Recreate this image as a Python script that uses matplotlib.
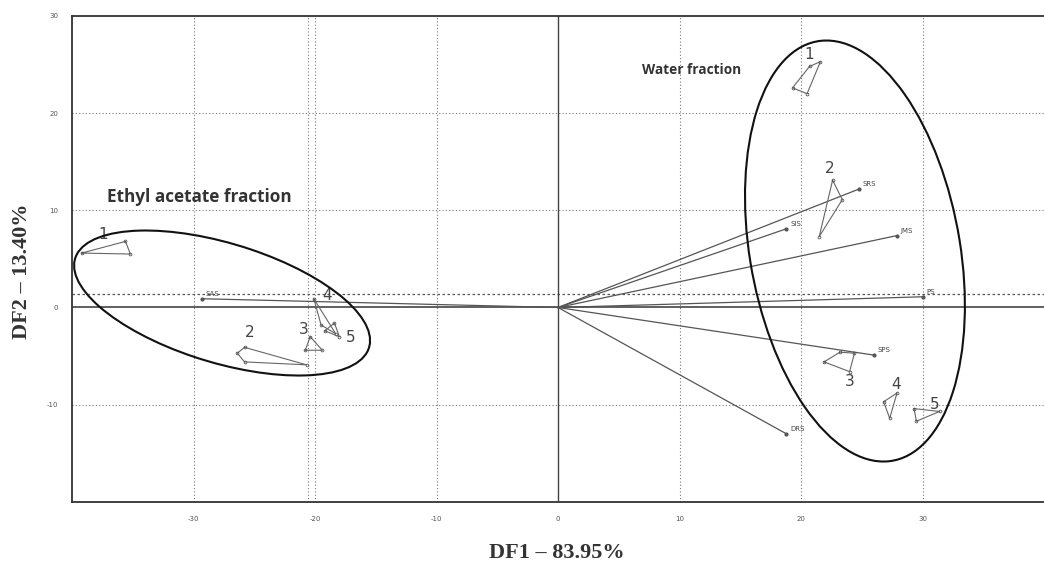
import numpy as np
import matplotlib
matplotlib.use("Agg")
import matplotlib.pyplot as plt
from matplotlib.patches import Ellipse

# ---- data ----
x_ticks = [-30, -20, -10, 0, 10, 20, 30]
y_ticks = [-10, 0, 10, 20, 30]

ea_group_x = [[-39.2, -35.6, -35.2],
              [-25.8, -20.7, -25.8, -26.4],
              [-20.8, -19.4, -20.4],
              [-20.1, -18.3, -19.5],
              [-19.2, -18.4, -18.0]]
ea_group_y = [[5.6, 6.8, 5.5],
              [-4.1, -5.9, -5.6, -4.7],
              [-4.4, -4.4, -3.0],
              [0.9, -2.7, -1.8],
              [-2.4, -1.6, -3.0]]
ea_label_x = [-37.4, -25.4, -20.9, -19.0, -17.1]
ea_label_y = [7.5, -2.6, -2.3, 1.2, -3.1]

w_group_x = [[20.7, 21.6, 20.5, 19.3],
             [22.6, 23.4, 21.5],
             [21.9, 23.2, 24.4, 24.0],
             [26.8, 27.9, 27.3],
             [29.3, 29.5, 31.4]]
w_group_y = [[24.8, 25.3, 22.0, 22.6],
             [13.1, 11.1, 7.3],
             [-5.6, -4.6, -4.7, -6.6],
             [-9.7, -8.8, -11.4],
             [-10.4, -11.7, -10.7]]
w_label_x = [20.7, 22.4, 24.0, 27.8, 31.0]
w_label_y = [26.0, 14.3, -7.6, -7.9, -10.0]
group_names = ["1", "2", "3", "4", "5"]

vec_names = ["SRS", "SIS", "JMS", "PS", "SPS", "DRS", "SAS"]
vec_x = [24.8, 18.8, 27.9, 30.0, 26.0, 18.8, -29.3]
vec_y = [12.2, 8.1, 7.4, 1.1, -4.9, -13.0, 0.9]

# ellipse: centre x, centre y, sd x, sd y, correlation
ea_ell = (-27.65, 0.46, 12.18, 7.46, -0.517)
w_ell = (24.44, 5.81, 9.05, 21.66, -0.259)

# ---- figure ----
fig = plt.figure(figsize=(10.44, 5.69), dpi=100)
ax = fig.add_axes([0.069, 0.118, 0.931, 0.854])
ax.set_xlim(-40, 40)
ax.set_ylim(-20, 30)

grid_kw = dict(color="#777777", lw=0.8, ls=(0, (1, 2)), zorder=1)
for gx in [-30, -20, -10, 10, 20, 30]:
    ax.axvline(gx, **grid_kw)
for gy in [-10, 10, 20]:
    ax.axhline(gy, **grid_kw)
ax.axhline(1.4, color="#555555", lw=0.9, ls=(0, (2, 2)), zorder=1)
ax.axvline(-20.6, **grid_kw)
ax.axhline(0, color="#444444", lw=1.2, zorder=2)
ax.axvline(0, color="#444444", lw=1.0, zorder=2)

# vectors
for n, vx, vy in zip(vec_names, vec_x, vec_y):
    ax.plot([0, vx], [0, vy], color="#555555", lw=0.9, zorder=3)
    ax.plot(vx, vy, marker="o", ms=2, color="#555555", zorder=3)
    ax.text(vx + 0.3, vy + 0.3, n, fontsize=5, color="#444444", zorder=4)

def draw_groups(gx, gy, lx, ly):
    for xs, ys, tx, ty, nm in zip(gx, gy, lx, ly, group_names):
        ax.plot(xs + [xs[0]], ys + [ys[0]], color="#666666", lw=0.8, zorder=3)
        ax.plot(xs, ys, ls="none", marker="o", ms=2, mfc="none",
                mec="#555555", mew=0.6, zorder=3)
        ax.text(tx, ty, nm, fontsize=11, color="#444444", ha="center",
                va="center", zorder=4)

draw_groups(ea_group_x, ea_group_y, ea_label_x, ea_label_y)
draw_groups(w_group_x, w_group_y, w_label_x, w_label_y)

def draw_ellipse(p):
    cx, cy, sx, sy, r = p
    cov = np.array([[sx * sx, r * sx * sy], [r * sx * sy, sy * sy]])
    vals, vecs = np.linalg.eigh(cov)
    order = vals.argsort()[::-1]
    vals, vecs = vals[order], vecs[:, order]
    ang = np.degrees(np.arctan2(vecs[1, 0], vecs[0, 0]))
    e = Ellipse((cx, cy), 2 * np.sqrt(vals[0]), 2 * np.sqrt(vals[1]),
                angle=ang, fill=False, ec="#111111", lw=1.5, zorder=5)
    ax.add_patch(e)

draw_ellipse(ea_ell)
draw_ellipse(w_ell)

ax.text(-37.1, 11.4, "Ethyl acetate fraction", fontsize=12.3, fontweight="bold",
        color="#333333", va="center", family="Open Sans")
ax.text(6.9, 24.4, "Water fraction", fontsize=9.8, fontweight="bold",
        color="#333333", va="center", family="Open Sans")

ax.set_xticks(x_ticks)
ax.set_xticklabels([str(t) for t in x_ticks])
ax.set_yticks(y_ticks)
ax.set_yticklabels([str(t) for t in y_ticks])
ax.tick_params(length=0, labelsize=5, labelcolor="#555555", pad=10)

for s in ["top", "left", "bottom"]:
    ax.spines[s].set_color("#333333")
    ax.spines[s].set_linewidth(1.3)
ax.spines["right"].set_visible(False)

fig.text(0.533, 0.028, "DF1 – 83.95%", fontsize=16, fontweight="bold",
         family="Liberation Serif", color="#333333", ha="center", va="center")
fig.text(0.021, 0.523, "DF2 – 13.40%", fontsize=16, fontweight="bold",
         family="Liberation Serif", color="#333333", ha="center", va="center",
         rotation=90)

fig.savefig("out.png", dpi=100)
